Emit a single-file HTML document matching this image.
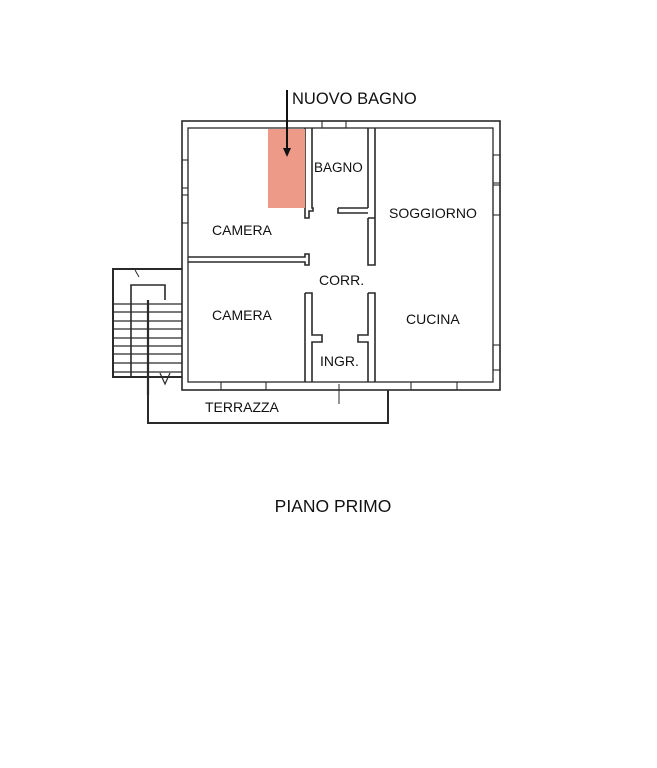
<!DOCTYPE html>
<html><head><meta charset="utf-8"><style>
html,body{margin:0;padding:0;background:#fff;width:657px;height:768px;overflow:hidden}
svg{display:block}
text{font-family:"Liberation Sans",Arial,sans-serif;fill:#111}
</style></head><body>
<svg width="657" height="768" viewBox="0 0 657 768">
<g fill="none" stroke="#2a2a2a" stroke-width="1.6">
<rect x="182" y="121" width="318" height="269"/>
<rect x="188" y="128" width="305" height="254" stroke-width="1.3"/>
<path d="M188 257 H305 V254 H309 V265 H305 V262 H188"/>
<path d="M305 128 V218 H309 V211 H313 V208 H312 V128"/>
<path d="M338 208 H368 M338 208 V213 H368"/>
<path d="M368 128 V208 M375 128 V218 M368 218 V265 H375 V218 H368"/>
<path d="M305 293 H312 V335 H322 V342 H312 V382 M305 293 V382"/>
<path d="M368 293 H375 V382 M368 293 V335 H358 V342 H368 V382"/>
<rect x="322" y="121" width="24" height="7" stroke-width="1.1"/>
<rect x="182" y="160" width="6" height="28" stroke-width="1.1"/>
<rect x="182" y="195" width="6" height="28" stroke-width="1.1"/>
<rect x="493" y="155" width="7" height="28" stroke-width="1.1"/>
<rect x="493" y="185" width="7" height="30" stroke-width="1.1"/>
<rect x="493" y="345" width="7" height="25" stroke-width="1.1"/>
<rect x="221" y="382" width="45" height="8" stroke-width="1.1"/>
<rect x="411" y="382" width="46" height="8" stroke-width="1.1"/>
<path d="M182 269 H113 V377 H182" stroke-width="2"/>
<path d="M131 377 V285 H165 V300"/>
<path d="M148 300 V395" stroke-width="2.2"/>
<path d="M113 304 H182 M113 312 H182 M113 321 H182 M113 329 H182 M113 338 H182 M113 346 H182 M113 354 H182 M113 363 H182 M113 372 H182" stroke-width="1.3"/>
<path d="M160 373 L165 384 L170 373" stroke-width="1.2"/>
<path d="M135 270 L139 277" stroke-width="1"/>
<path d="M148 390 V423 H388 V390" stroke-width="2"/>
<path d="M339 384 V404" stroke-width="1"/>
</g>
<rect x="268" y="129" width="37" height="79" fill="#ee9a88"/>
<path d="M287 90 V152" stroke="#111" stroke-width="2"/>
<path d="M283 148 L287 157 L291 148 Z" fill="#111"/>
<text x="292" y="104" font-size="16.5">NUOVO BAGNO</text>
<text x="314" y="172" font-size="13.5">BAGNO</text>
<text x="389" y="218" font-size="14">SOGGIORNO</text>
<text x="212" y="235" font-size="14">CAMERA</text>
<text x="319" y="285" font-size="14">CORR.</text>
<text x="212" y="320" font-size="14">CAMERA</text>
<text x="406" y="324" font-size="14">CUCINA</text>
<text x="320" y="366" font-size="14">INGR.</text>
<text x="205" y="412" font-size="14">TERRAZZA</text>
<text x="333" y="512" font-size="17.5" text-anchor="middle">PIANO PRIMO</text>
</svg>
</body></html>
